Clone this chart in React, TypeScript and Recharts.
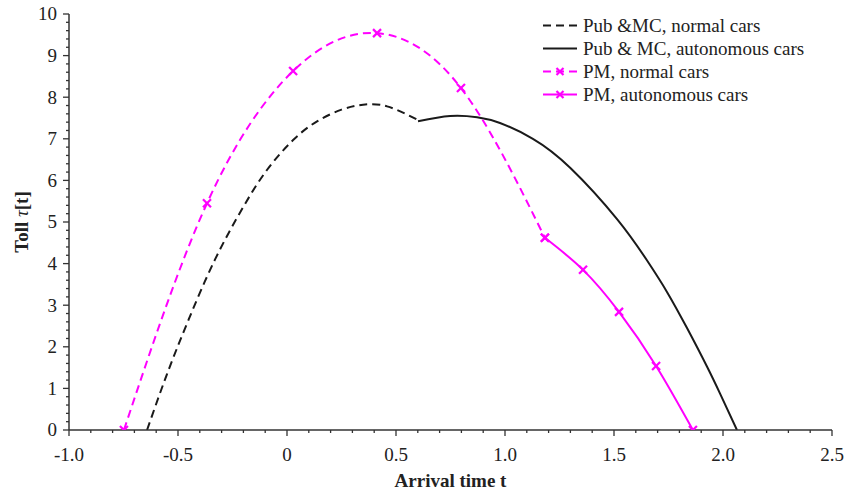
import { LineChart, Line, XAxis, YAxis, Legend } from "recharts";

// PM, normal cars (dashed magenta, markers at every point)
const pmNormalTime = [-0.748, -0.367, 0.028, 0.413, 0.798, 1.183];
const pmNormalToll = [0, 5.45, 8.63, 9.54, 8.22, 4.62];

// PM, autonomous cars (solid magenta)
const pmAutoTime = [1.183, 1.358, 1.523, 1.693, 1.862];
const pmAutoToll = [4.62, 3.85, 2.84, 1.54, 0];

// Pub & MC, normal cars (dashed black)
const pubNormalTime = [-0.642, -0.55, -0.45, -0.33, -0.202, -0.092, 0.028, 0.138, 0.25, 0.349, 0.459, 0.601];
const pubNormalToll = [0, 1.35, 2.67, 4.1, 5.35, 6.25, 6.97, 7.42, 7.7, 7.82, 7.78, 7.45];

// Pub & MC, autonomous cars (solid black)
const pubAutoTime = [0.601, 0.748, 0.872, 0.977, 1.128, 1.3, 1.514, 1.651, 1.743, 1.835, 1.927, 1.986, 2.064];
const pubAutoToll = [7.42, 7.55, 7.52, 7.38, 7.0, 6.3, 5.07, 4.08, 3.32, 2.45, 1.52, 0.88, 0];

const legendLabels = [
  "Pub &MC, normal cars",
  "Pub & MC, autonomous cars",
  "PM, normal cars",
  "PM, autonomous cars",
];

const MAGENTA = "#ff00ff";
const INK = "#1a1a1a";
const AXIS = "#333333";
const FONT = "Liberation Serif, Times New Roman, serif";

const toPoints = (ts: number[], vs: number[]) => ts.map((t, i) => ({ t, v: vs[i] }));

const pmNormalData = toPoints(pmNormalTime, pmNormalToll);
const pmAutoData = toPoints(pmAutoTime, pmAutoToll);
const pubNormalData = toPoints(pubNormalTime, pubNormalToll);
const pubAutoData = toPoints(pubAutoTime, pubAutoToll);

// minor ticks every 0.1 on x, every 0.2 on y
const xTicks = Array.from({ length: 36 }, (_, i) => Math.round((-1 + i * 0.1) * 10) / 10);
const yTicks = Array.from({ length: 51 }, (_, i) => Math.round(i * 0.2 * 10) / 10);

const isMultiple = (v: number, step: number) => Math.abs(v / step - Math.round(v / step)) < 1e-6;

function XTick(props: { x?: number; y?: number; payload?: { value?: number } }) {
  const x = props.x ?? 0;
  const y = props.y ?? 0;
  const v = props.payload?.value ?? 0;
  const major = isMultiple(v, 0.5);
  return (
    <g>
      <line x1={x} x2={x} y1={y} y2={y + (major ? 6 : 3)} stroke={AXIS} strokeWidth={1.3} />
      {major && (
        <text x={x} y={y + 31} textAnchor="middle" fill="#222" fontSize={19} style={{ fontFamily: FONT }}>
          {v === 0 ? "0" : v.toFixed(1)}
        </text>
      )}
    </g>
  );
}

function YTick(props: { x?: number; y?: number; payload?: { value?: number } }) {
  const x = props.x ?? 0;
  const y = props.y ?? 0;
  const v = props.payload?.value ?? 0;
  const major = isMultiple(v, 1);
  return (
    <g>
      <line x1={x - (major ? 6 : 3)} x2={x} y1={y} y2={y} stroke={AXIS} strokeWidth={1.3} />
      {major && (
        <text x={x - 12} y={y} dy="0.34em" textAnchor="end" fill="#222" fontSize={19} style={{ fontFamily: FONT }}>
          {String(Math.round(v))}
        </text>
      )}
    </g>
  );
}

function XTitle(props: { viewBox?: { x: number; y: number; width: number; height: number } }) {
  const vb = props.viewBox ?? { x: 0, y: 0, width: 0, height: 0 };
  return (
    <text
      x={vb.x + vb.width / 2}
      y={vb.y + 57}
      textAnchor="middle"
      fill="#222"
      fontSize={19}
      fontWeight="bold"
      style={{ fontFamily: FONT }}
    >
      Arrival time t
    </text>
  );
}

function YTitle(props: { viewBox?: { x: number; y: number; width: number; height: number } }) {
  const vb = props.viewBox ?? { x: 0, y: 0, width: 0, height: 0 };
  const cx = vb.x + 13;
  const cy = vb.y + vb.height / 2;
  return (
    <text
      x={cx}
      y={cy}
      transform={`rotate(-90 ${cx} ${cy})`}
      textAnchor="middle"
      dy="0.34em"
      fill="#222"
      fontSize={19}
      fontWeight="bold"
      style={{ fontFamily: FONT }}
    >
      Toll{" "}
      <tspan fontStyle="italic" fontWeight="normal">
        τ
      </tspan>
      [t]
    </text>
  );
}

function Cross({ cx, cy, size = 4 }: { cx: number; cy: number; size?: number }) {
  return (
    <g stroke={MAGENTA} strokeWidth={2.2} strokeDasharray="none" fill="none">
      <line x1={cx - size} y1={cy - size} x2={cx + size} y2={cy + size} />
      <line x1={cx - size} y1={cy + size} x2={cx + size} y2={cy - size} />
    </g>
  );
}

const renderCross = (p: { cx?: number; cy?: number; index?: number }) => (
  <Cross key={`c-${p.index}`} cx={p.cx ?? 0} cy={p.cy ?? 0} />
);

function LegendBox() {
  const samples = [
    { color: INK, dash: "8 5", marker: false },
    { color: INK, dash: undefined, marker: false },
    { color: MAGENTA, dash: "8 5", marker: true },
    { color: MAGENTA, dash: undefined, marker: true },
  ];
  return (
    <div style={{ fontFamily: FONT, fontSize: 19, color: "#222", lineHeight: "23px" }}>
      {legendLabels.map((label, i) => (
        <div key={label} style={{ display: "flex", alignItems: "center", height: 23, whiteSpace: "nowrap" }}>
          <svg width={43} height={23} style={{ flex: "none" }}>
            <line
              x1={3}
              x2={37}
              y1={11.5}
              y2={11.5}
              stroke={samples[i].color}
              strokeWidth={2}
              strokeDasharray={samples[i].dash}
            />
            {samples[i].marker && <Cross cx={20} cy={11.5} size={3.5} />}
          </svg>
          <span>{label}</span>
        </div>
      ))}
    </div>
  );
}

export default function App() {
  return (
    <div style={{ position: "absolute", left: 0, top: 0, width: 847, height: 495, background: "#fff" }}>
      <LineChart width={847} height={495} margin={{ top: 14, right: 15, bottom: 15, left: 9 }}>
        <XAxis
          type="number"
          dataKey="t"
          domain={[-1, 2.5]}
          ticks={xTicks}
          interval={0}
          tickSize={0}
          tickMargin={0}
          tickLine={false}
          tick={<XTick />}
          axisLine={{ stroke: AXIS, strokeWidth: 1.5 }}
          height={50}
          allowDataOverflow
          label={<XTitle />}
        />
        <YAxis
          type="number"
          dataKey="v"
          domain={[0, 10]}
          ticks={yTicks}
          interval={0}
          tickSize={0}
          tickMargin={0}
          tickLine={false}
          tick={<YTick />}
          axisLine={{ stroke: AXIS, strokeWidth: 1.5 }}
          width={60}
          allowDataOverflow
          label={<YTitle />}
        />
        <Legend
          layout="vertical"
          align="center"
          verticalAlign="middle"
          content={() => <LegendBox />}
          wrapperStyle={{ top: 14, left: 540, width: "auto", height: "auto" }}
        />
        <Line
          data={pubNormalData}
          dataKey="v"
          type="natural"
          stroke={INK}
          strokeWidth={2}
          strokeDasharray="8 5"
          dot={false}
          activeDot={false}
          isAnimationActive={false}
        />
        <Line
          data={pubAutoData}
          dataKey="v"
          type="natural"
          stroke={INK}
          strokeWidth={2}
          dot={false}
          activeDot={false}
          isAnimationActive={false}
        />
        <Line
          data={pmNormalData}
          dataKey="v"
          type="natural"
          stroke={MAGENTA}
          strokeWidth={2}
          strokeDasharray="8 5"
          dot={renderCross}
          activeDot={false}
          isAnimationActive={false}
        />
        <Line
          data={pmAutoData}
          dataKey="v"
          type="natural"
          stroke={MAGENTA}
          strokeWidth={2}
          dot={renderCross}
          activeDot={false}
          isAnimationActive={false}
        />
      </LineChart>
    </div>
  );
}
